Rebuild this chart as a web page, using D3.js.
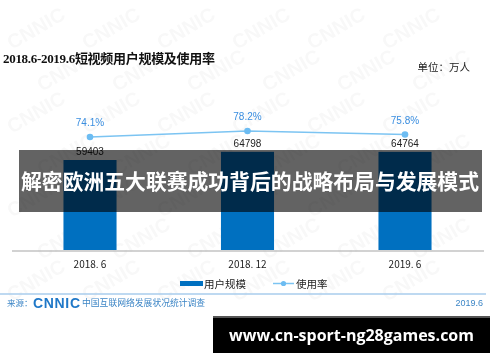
<!DOCTYPE html>
<html>
<head>
<meta charset="utf-8">
<script src="https://cdn.jsdelivr.net/npm/d3@7"></script>
<style>
  body { margin: 0; background: #fff; }
  svg { display: block; font-family: "Noto Sans CJK SC", "Noto Sans", sans-serif; }
</style>
</head>
<body>
<svg id="chart" width="500" height="362"></svg>
<script>
'use strict';

var periods  = ['2018.6', '2018.12', '2019.6']
  , tickText = ['2018. 6', '2018. 12', '2019. 6']
  , users    = [59403, 64798, 64764]   // 万人
  , rates    = [74.1, 78.2, 75.8]      // %

var svg = d3.select('#chart');

var x = d3.scaleBand()
  .domain(periods)
  .range([11.25, 483.75])
  .paddingInner(0.663)
  .paddingOuter(0.3315);

var y = d3.scaleLinear().domain([0, 132000]).range([250, 50]);
var yr = d3.scaleLinear().domain([0, 100]).range([245.2, 99.2]);

// faint CNNIC watermark, kept inside the frame
var wm = svg.append('g').attr('fill', '#000').attr('opacity', 0.03)
  .style('font-family', 'Liberation Sans, sans-serif').style('font-weight', 'bold').style('font-size', '20px');
for (var r = 0; r < 7; ++r){
  for (var c = 0; c < 6; ++c){
    wm.append('text')
      .attr('transform', 'translate(' + (c * 75 + 12 + (r % 2) * 30) + ',' + (r * 42 + 50) + ') rotate(-30)')
      .text('CNNIC');
  }
}

// header
svg.append('text')
  .attr('x', 3).attr('y', 63)
  .style('font-family', '"Liberation Serif", "DejaVu Serif", "Noto Sans CJK SC", serif')
  .style('font-weight', 'bold').style('font-size', '13px').attr('fill', '#111')
  .attr('textLength', 212)
  .text('2018.6-2019.6短视频用户规模及使用率');

svg.append('text')
  .attr('x', 470).attr('y', 71).attr('text-anchor', 'end')
  .style('font-size', '10.5px').attr('fill', '#222')
  .text('单位：万人');

// bars
svg.selectAll('rect.bar').data(users).enter().append('rect')
  .attr('class', 'bar')
  .attr('x', function(d, i){ return x(periods[i]); })
  .attr('width', x.bandwidth())
  .attr('y', function(d){ return y(d); })
  .attr('height', function(d){ return y(0) - y(d); })
  .attr('fill', '#0070c0');

// baseline
svg.append('line')
  .attr('x1', 12).attr('x2', 484).attr('y1', 251).attr('y2', 251)
  .attr('stroke', '#a6a6a6').attr('stroke-width', 1.2);

svg.selectAll('text.val').data(users).enter().append('text')
  .attr('class', 'val')
  .attr('x', function(d, i){ return x(periods[i]) + x.bandwidth() / 2; })
  .attr('y', function(d){ return y(d) - 5; })
  .attr('text-anchor', 'middle')
  .style('font-family', '"Liberation Sans", Arial, sans-serif')
  .style('font-size', '10px').attr('fill', '#222')
  .text(function(d){ return d; });

// usage rate line
var line = d3.line()
  .x(function(d, i){ return x(periods[i]) + x.bandwidth() / 2; })
  .y(function(d){ return yr(d); });

svg.append('path').datum(rates)
  .attr('d', line).attr('fill', 'none')
  .attr('stroke', '#7cc4f2').attr('stroke-width', 1.5);

svg.selectAll('circle.pt').data(rates).enter().append('circle')
  .attr('class', 'pt')
  .attr('cx', function(d, i){ return x(periods[i]) + x.bandwidth() / 2; })
  .attr('cy', function(d){ return yr(d); })
  .attr('r', 3.3).attr('fill', '#6cbcf2');

svg.selectAll('text.rate').data(rates).enter().append('text')
  .attr('class', 'rate')
  .attr('x', function(d, i){ return x(periods[i]) + x.bandwidth() / 2; })
  .attr('y', function(d){ return yr(d) - 11; })
  .attr('text-anchor', 'middle')
  .style('font-family', '"Liberation Sans", Arial, sans-serif')
  .style('font-size', '10px').attr('fill', '#3a8ee0')
  .text(function(d){ return d.toFixed(1) + '%'; });

// x axis labels
var xAxis = d3.axisBottom(x).tickSize(0).tickPadding(0)
  .tickFormat(function(d, i){ return tickText[i]; });
var gx = svg.append('g').attr('transform', 'translate(0,261)').call(xAxis);
gx.select('.domain').remove();
gx.selectAll('text')
  .style('font-family', '"Noto Sans CJK SC", sans-serif')
  .style('font-size', '10px').attr('fill', '#222');

// legend
svg.append('rect').attr('x', 180).attr('y', 281).attr('width', 23).attr('height', 5).attr('fill', '#0070c0');
svg.append('text').attr('x', 204).attr('y', 287.5).style('font-size', '10.5px').attr('fill', '#222').text('用户规模');
svg.append('line').attr('x1', 273).attr('x2', 294).attr('y1', 283.5).attr('y2', 283.5)
  .attr('stroke', '#7cc4f2').attr('stroke-width', 1.5);
svg.append('circle').attr('cx', 283.5).attr('cy', 283.5).attr('r', 2.6).attr('fill', '#6cbcf2');
svg.append('text').attr('x', 296).attr('y', 287.5).style('font-size', '10.5px').attr('fill', '#222').text('使用率');

// footer
svg.append('line').attr('x1', 0).attr('x2', 486).attr('y1', 294).attr('y2', 294)
  .attr('stroke', '#a9cdec').attr('stroke-width', 1.5);
svg.append('text').attr('x', 7).attr('y', 306).style('font-size', '8.5px').attr('fill', '#3d86c6').text('来源：');
svg.append('text').attr('x', 33).attr('y', 307.5)
  .style('font-family', '"Liberation Sans", Arial, sans-serif').style('font-weight', 'bold')
  .style('font-size', '14px').attr('fill', '#1f78c8').attr('textLength', 47).text('CNNIC');
svg.append('text').attr('x', 82).attr('y', 306).style('font-size', '8.8px').attr('fill', '#3d86c6')
  .text('中国互联网络发展状况统计调查');
svg.append('text').attr('x', 483).attr('y', 306).attr('text-anchor', 'end')
  .style('font-family', '"Liberation Sans", Arial, sans-serif')
  .style('font-size', '9px').attr('fill', '#3d86c6').text('2019.6');

// overlay banner
svg.append('rect').attr('x', 19).attr('y', 150).attr('width', 463).attr('height', 62)
  .attr('fill', '#000').attr('opacity', 0.61);
svg.append('text').attr('x', 250).attr('y', 189).attr('text-anchor', 'middle')
  .style('font-weight', 'bold').style('font-size', '21px').attr('fill', '#fff')
  .attr('textLength', 458).attr('lengthAdjust', 'spacingAndGlyphs')
  .text('解密欧洲五大联赛成功背后的战略布局与发展模式');

// url tag
svg.append('rect').attr('x', 213).attr('y', 316).attr('width', 277).attr('height', 37).attr('fill', '#000');
svg.append('rect').attr('x', 213).attr('y', 316).attr('width', 277).attr('height', 2).attr('fill', '#555');
svg.append('text').attr('x', 351.5).attr('y', 341).attr('text-anchor', 'middle')
  .style('font-family', '"Open Sans", "DejaVu Sans", sans-serif').style('font-weight', 'bold')
  .style('font-size', '16px').attr('fill', '#fff')
  .text('www.cn-sport-ng28games.com');
</script>
</body>
</html>
